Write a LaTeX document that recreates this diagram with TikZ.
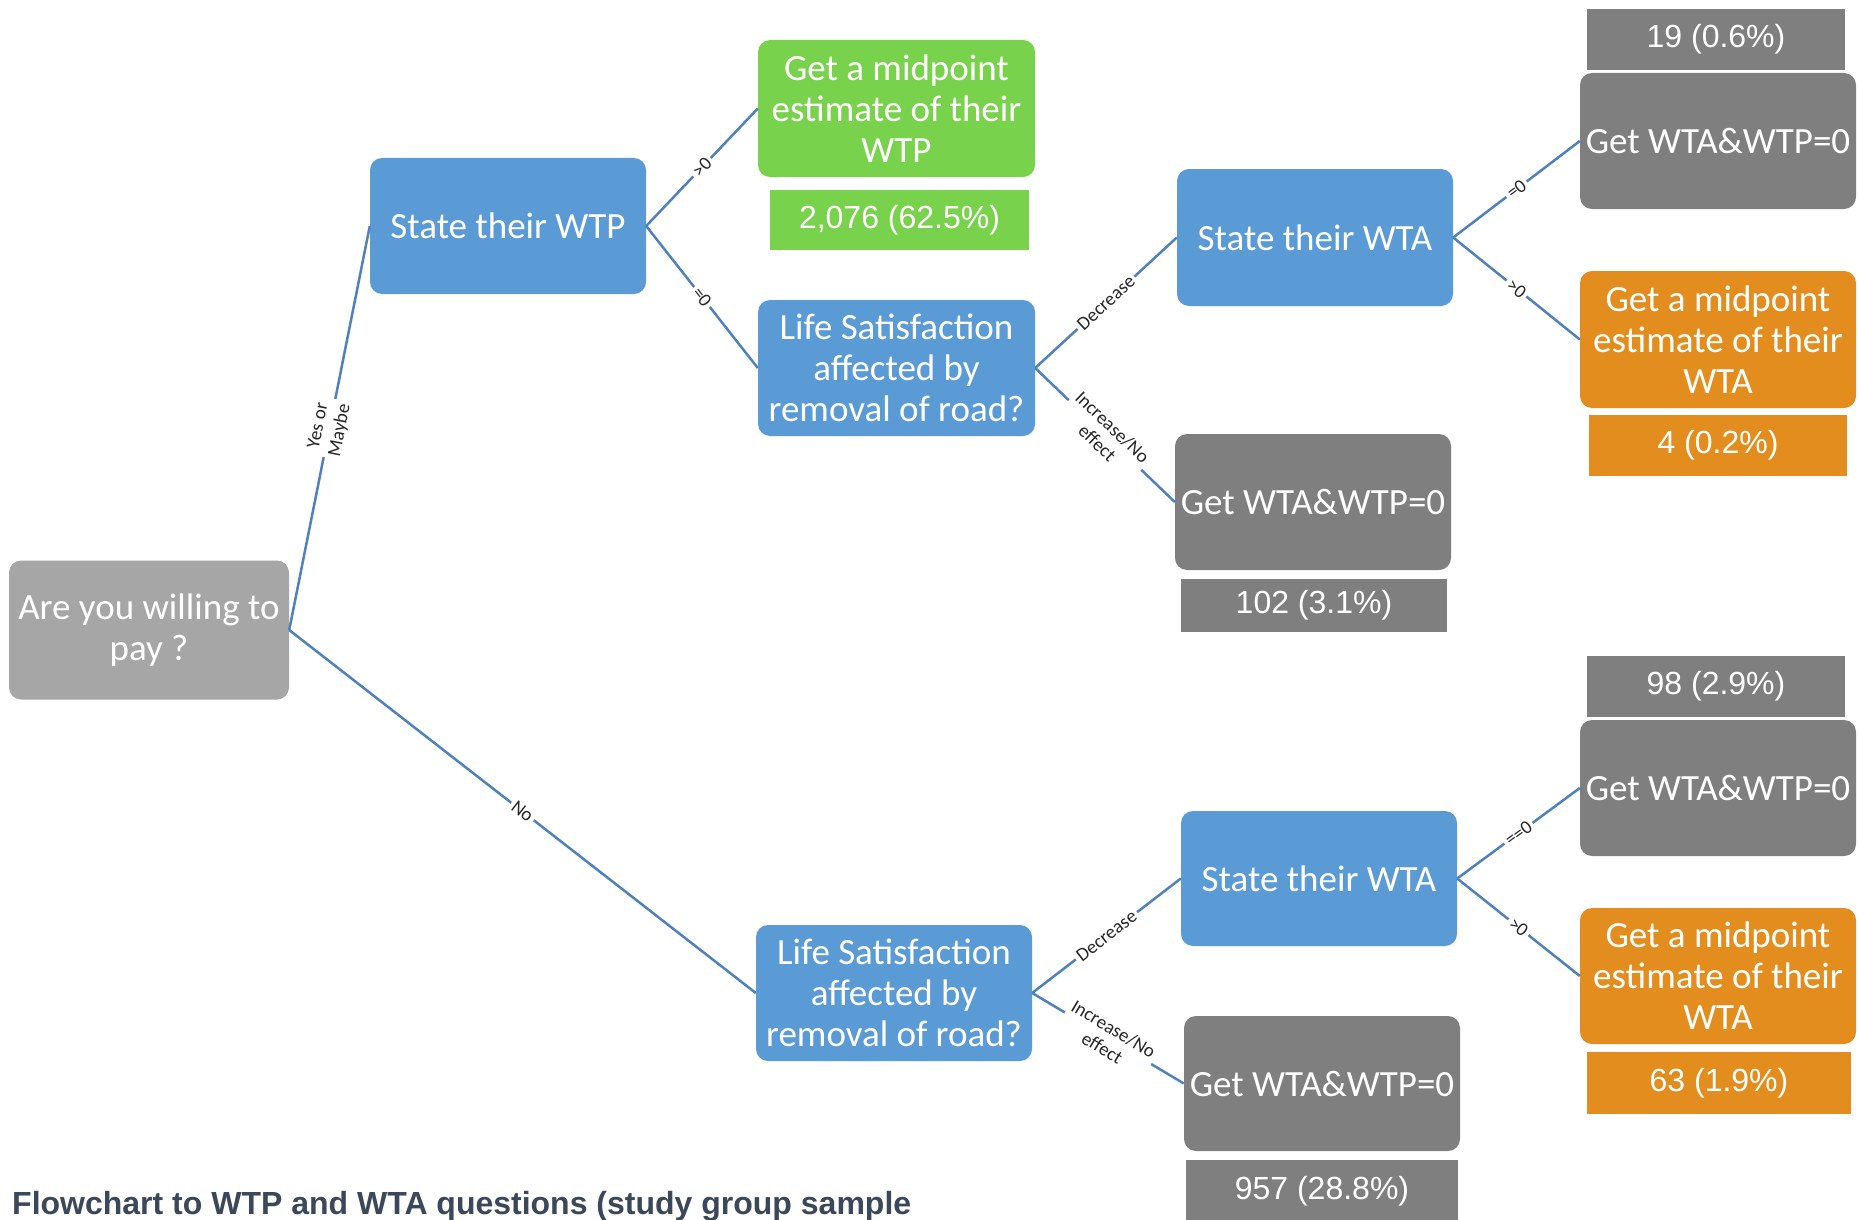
\documentclass[tikz,border=0pt]{standalone}
\usepackage{fontspec}
\setmainfont{Carlito}
\newfontfamily\arialf{Liberation Sans}
\definecolor{cblue}{HTML}{5B9BD5}
\definecolor{cgreen}{HTML}{78D24B}
\definecolor{corange}{HTML}{E38D1F}
\definecolor{cdgray}{HTML}{7F7F7F}
\definecolor{clgray}{HTML}{A6A6A6}
\definecolor{cline}{HTML}{4F81BD}
\definecolor{ccap}{HTML}{3B4859}
\begin{document}
\begin{tikzpicture}[x=1pt,y=-1pt,
  box/.style={rounded corners=12pt, minimum width=276pt, minimum height=136pt, inner sep=0pt, align=center, text=white, font=\fontsize{37}{41}\selectfont},
  bluebox/.style={box, fill=cblue},
  greenbox/.style={box, fill=cgreen},
  orangebox/.style={box, fill=corange},
  graybox/.style={box, fill=cdgray},
  numbox/.style={minimum width=258pt, minimum height=61pt, inner sep=0pt, text=white, font=\arialf\fontsize{32}{34}\selectfont},
  conn/.style={draw=cline, line width=2.5pt},
  elab/.style={midway, sloped, fill=white, inner sep=3pt, align=center, text=black!85, font=\fontsize{19}{22}\selectfont}
]
\useasboundingbox[fill=white] (0,0) rectangle (1858,1220);

% nodes
\node[box, fill=clgray, minimum width=280pt, minimum height=139pt] (q) at (149,630) {Are you willing to\\pay ?};
\node[bluebox] (wtp) at (508,226) {State their WTP};
\node[greenbox, minimum width=277pt, minimum height=137pt] (gwtp) at (896.5,108.5) {Get a midpoint\\estimate of their\\WTP};
\node[numbox, fill=cgreen, minimum width=259pt, minimum height=60pt] (n1) at (899.5,220) {2,076 (62.5\%)};
\node[bluebox, minimum width=277pt] (ls1) at (896.5,368) {Life Satisfaction\\affected by\\removal of road?};
\node[bluebox, minimum height=137pt] (wta1) at (1315,237.5) {State their WTA};
\node[graybox] (z1) at (1313,502) {Get WTA\&WTP=0};
\node[numbox, fill=cdgray, minimum width=266pt, minimum height=53pt] (n102) at (1314,605.5) {102 (3.1\%)};
\node[numbox, fill=cdgray] (n19) at (1716,39.5) {19 (0.6\%)};
\node[graybox] (z2) at (1718,141) {Get WTA\&WTP=0};
\node[orangebox, minimum height=137pt] (o1) at (1718,339.5) {Get a midpoint\\estimate of their\\WTA};
\node[numbox, fill=corange] (n4) at (1718,445.5) {4 (0.2\%)};

\node[numbox, fill=cdgray] (n98) at (1716,686.5) {98 (2.9\%)};
\node[graybox] (z3) at (1718,788) {Get WTA\&WTP=0};
\node[bluebox, minimum height=135pt] (wta2) at (1319,878.5) {State their WTA};
\node[orangebox] (o2) at (1718,976) {Get a midpoint\\estimate of their\\WTA};
\node[numbox, fill=corange, minimum width=264pt, minimum height=62pt] (n63) at (1719,1083) {63 (1.9\%)};
\node[bluebox] (ls2) at (894,993) {Life Satisfaction\\affected by\\removal of road?};
\node[graybox, minimum height=135pt] (z4) at (1322,1083.5) {Get WTA\&WTP=0};
\node[numbox, fill=cdgray, minimum width=272pt, minimum height=62pt] (n957) at (1322,1191) {957 (28.8\%)};

\node[anchor=base west, inner sep=0pt, text=ccap, font=\arialf\bfseries\fontsize{32}{34}\selectfont] (cap) at (12,1214) {Flowchart to WTP and WTA questions (study group sample};

% connectors
\draw[conn] (q.east) -- node[elab] {Yes or\\Maybe} (wtp.west);
\draw[conn] (q.east) -- node[elab] {No} (ls2.west);
\draw[conn] (wtp.east) -- node[elab] {>0} (gwtp.west);
\draw[conn] (wtp.east) -- node[elab] {=0} (ls1.west);
\draw[conn] (ls1.east) -- node[elab] {Decrease} (wta1.west);
\draw[conn] (ls1.east) -- node[elab] {Increase/No\\effect} (z1.west);
\draw[conn] (wta1.east) -- node[elab] {=0} (z2.west);
\draw[conn] (wta1.east) -- node[elab] {>0} (o1.west);
\draw[conn] (ls2.east) -- node[elab] {Decrease} (wta2.west);
\draw[conn] (ls2.east) -- node[elab] {Increase/No\\effect} (z4.west);
\draw[conn] (wta2.east) -- node[elab] {==0} (z3.west);
\draw[conn] (wta2.east) -- node[elab] {>0} (o2.west);
\end{tikzpicture}
\end{document}
